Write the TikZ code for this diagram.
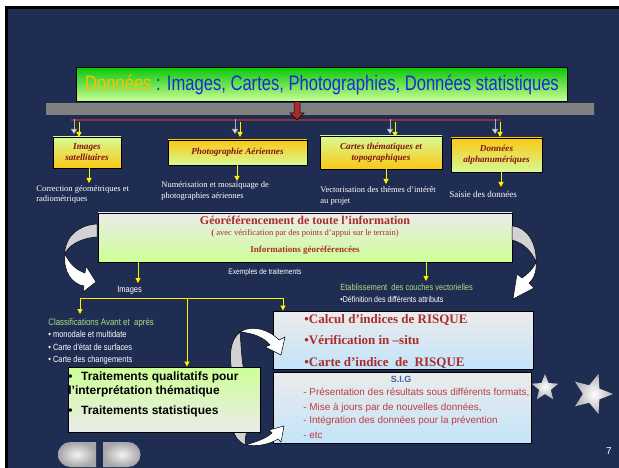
\documentclass[tikz,border=0pt]{standalone}
\usepackage{fontspec}
\setmainfont{Liberation Serif}
\setsansfont{Liberation Sans}
\newfontfamily\narrowfont[FakeStretch=0.83]{Liberation Sans}
\newfontfamily\titlefont[FakeStretch=0.79]{Liberation Sans}
\usetikzlibrary{arrows.meta,shapes.geometric}

\definecolor{slidebg}{RGB}{31,45,82}
\definecolor{titleblue}{RGB}{30,40,220}
\definecolor{titleorange}{RGB}{255,190,0}
\definecolor{titletop}{RGB}{10,200,10}
\definecolor{titlebot}{RGB}{205,255,150}
\definecolor{boxgreen}{RGB}{215,250,150}
\definecolor{boxgold}{RGB}{250,200,20}
\definecolor{boxtext}{RGB}{130,20,20}
\definecolor{redtext}{RGB}{170,45,45}
\definecolor{palegray}{RGB}{235,235,235}
\definecolor{paleblue}{RGB}{195,228,250}
\definecolor{sigblue}{RGB}{60,100,160}
\definecolor{sigred}{RGB}{190,60,60}
\definecolor{txtgreen}{RGB}{175,220,130}
\definecolor{redbar}{RGB}{140,50,55}
\definecolor{redarrow}{RGB}{165,45,45}

\tikzset{every picture/.style={line width=0.75pt}}

\begin{document}
\begin{tikzpicture}[x=1pt,y=1pt,yscale=-1,xscale=1,
  boxA/.style={draw=black, line width=0.8pt, top color=boxgreen, bottom color=boxgold, inner sep=0pt, align=center, text=boxtext, font=\fontsize{9.2}{11}\selectfont\bfseries\itshape},
  boxB/.style={boxA, top color=boxgold, bottom color=boxgreen},
  panel/.style={draw=black, line width=0.8pt, inner sep=0pt},
  yarr/.style={draw=yellow, line width=1pt, -{Triangle[width=5pt,length=5pt]}},
  warr/.style={draw=gray!60, line width=1pt, -{Triangle[width=6pt,length=5pt,fill=white]}},
  lbl/.style={anchor=base west, inner sep=0pt, text=white},
  bendwhite/.style={draw=black, line width=0.5pt, fill=white},
  bendgray/.style={draw=black, line width=0.5pt, fill=gray!35}]
\useasboundingbox (0,0) rectangle (619,468);

%Slide background
\fill[white] (0,0) rectangle (619,468);
\fill[black] (5,6) rectangle (619,468);
\fill[slidebg] (8,9) rectangle (619,468);

%Shape: gray bar
\node (bar) [minimum width=548, minimum height=11, inner sep=0pt, left color=gray!100, middle color=gray!15, right color=gray!100] at (320,109.5) {};
%Straight Lines: red bus
\coordinate (busW) at (71,120);
\coordinate (busE) at (501,120);
\draw[redbar, line width=2.5pt] (busW) -- (busE);
%Shape: red arrow
\draw[black, line width=0.5pt, fill=redarrow] (294,101) -- (300,101) -- (300,113) -- (304,113) -- (297,120) -- (290,113) -- (294,113) -- cycle;

%Title box
\node (title) [panel, top color=titletop, bottom color=titlebot, minimum width=491, minimum height=34, font=\titlefont\fontsize{21}{24}\selectfont] at (322,84.5) {\textcolor{titleorange}{Données}\ \textcolor{titleblue}{: Images, Cartes, Photographies, Données statistiques}};

%small arrows from the bus
\foreach \xa in {74,235,390,495} {
  \draw[warr] (\xa,119) -- (\xa,134);
  \draw[yarr] (\xa+5,122) -- (\xa+5,137);
}

%Data boxes
\node (sat) [boxA, minimum width=68, minimum height=31] at (87,152.5) {Images\\satellitaires};
\node (photo) [boxB, minimum width=139, minimum height=25] at (237.5,152.5) {Photographie Aériennes};
\node (carte) [boxA, minimum width=122, minimum height=33] at (381,152.5) {Cartes thématiques et\\topographiques};
\node (donnee) [boxB, minimum width=91, minimum height=34] at (496.5,155) {Données\\alphanumériques};

\coordinate (satE) at (89,183);
\coordinate (photoE) at (237,181);
\coordinate (carteE) at (386,184);
\coordinate (donneeE) at (501,187);
\draw[yarr] (sat.south -| satE) -- (satE);
\draw[yarr] (photo.south -| photoE) -- (photoE);
\draw[yarr] (carte.south -| carteE) -- (carteE);
\draw[yarr] (donnee.south -| donneeE) -- (donneeE);

% Text Node
\node (corr1) [lbl, font=\fontsize{8.5}{10}\selectfont] at (36,191.5) {Correction géométriques et};
\node (corr2) [lbl, font=\fontsize{8.5}{10}\selectfont] at (36,202) {radiométriques};
\node (num1) [lbl, font=\fontsize{8.5}{10}\selectfont] at (161,188) {Numérisation et mosaïquage de};
\node (num2) [lbl, font=\fontsize{8.5}{10}\selectfont] at (161,199) {photographies aériennes};
\node (vec1) [lbl, font=\fontsize{8.5}{10}\selectfont] at (320,193) {Vectorisation des thèmes d'intérêt};
\node (vec2) [lbl, font=\fontsize{8.5}{10}\selectfont] at (320,204) {au projet};
\node (saisie) [lbl, font=\fontsize{9}{10}\selectfont] at (449,197) {Saisie des données};

%Georeferencing box
\node (georef) [panel, top color=palegray, bottom color=titlebot, minimum width=414, minimum height=49] at (305,237.5) {};
\node (geo1) [anchor=base, inner sep=0pt, text=redtext, font=\fontsize{12}{14}\selectfont\bfseries] at (305,224.5) {Géoréférencement de toute l'information};
\node (geo2) [anchor=base, inner sep=0pt, text=redtext, font=\fontsize{8.5}{10}\selectfont] at (305,235.5) {{\bfseries (} avec vérification par des points d'appui sur le terrain)};
\node (geo3) [anchor=base, inner sep=0pt, text=redtext, font=\fontsize{9}{10}\selectfont\bfseries] at (305,252) {Informations géoréférencées};

%Curve Lines: left and right bent arrows
\draw[bendgray] (97,224) .. controls (76,225) and (64,240) .. (65,254) .. controls (68,246) and (80,238) .. (97,237) -- cycle;
\draw[bendwhite] (65,254) .. controls (70,264) and (76,270) .. (85,273) -- (86,266) -- (96,282) -- (83,292) -- (84,286) .. controls (72,284) and (63,272) .. (65,254) -- cycle;
\draw[bendgray] (512,226) .. controls (528,227) and (537,245) .. (536,262) .. controls (532,252) and (524,243) .. (512,240) -- cycle;
\draw[bendwhite] (536,262) .. controls (537,272) and (533,280) .. (529,283) -- (534,288) -- (513,299) -- (517,274) -- (522,278) .. controls (528,274) and (534,268) .. (536,262) -- cycle;

% Text Node
\node (exlbl) [lbl, font=\narrowfont\fontsize{8}{9}\selectfont] at (228,274.5) {Exemples de traitements};
\coordinate (imgE) at (138,283);
\coordinate (vecE) at (426,281);
\draw[yarr] (georef.south -| imgE) -- (imgE);
\draw[yarr] (georef.south -| vecE) -- (vecE);
\node (imglbl) [lbl, font=\narrowfont\fontsize{9}{10}\selectfont] at (117,292) {Images};
\node (etab) [lbl, text=txtgreen, font=\narrowfont\fontsize{9}{10}\selectfont] at (340,290.5) {Etablissement\ \ des couches vectorielles};
\node (defi) [lbl, font=\narrowfont\fontsize{8.5}{10}\selectfont] at (340,302.5) {•Définition des différents attributs};

% Text Node
\node (cls0) [lbl, text=txtgreen, font=\narrowfont\fontsize{9.5}{10}\selectfont] at (48,325) {Classifications Avant et\ \ après};
\node (cls1) [lbl, font=\narrowfont\fontsize{9}{10}\selectfont] at (48,337) {• monodale et multidate};
\node (cls2) [lbl, font=\narrowfont\fontsize{9}{10}\selectfont] at (48,350) {• Carte d'état de surfaces};
\node (cls3) [lbl, font=\narrowfont\fontsize{9}{10}\selectfont] at (48,362) {• Carte des changements};

%tails of the middle bent arrows
\draw[bendgray] (240,332) .. controls (230,340) and (229,355) .. (232,372) -- (244,372) .. controls (241,355) and (241,342) .. (240,332) -- cycle;
\draw[bendgray] (233,428) .. controls (234,436) and (238,442) .. (246,445) .. controls (244,440) and (246,434) .. (248,428) -- cycle;

%Treatments box
\node (trait) [panel, top color=titlebot, bottom color=palegray, minimum width=192, minimum height=65] at (164,399.5) {};
\node (tq1) [anchor=base west, inner sep=0pt, font=\sffamily\bfseries\fontsize{12}{14}\selectfont] at (68,380) {•\hspace{8.5pt}Traitements qualitatifs pour};
\node (tq2) [anchor=base west, inner sep=0pt, font=\sffamily\bfseries\fontsize{12}{14}\selectfont] at (68,394) {l'interprétation thématique};
\node (ts) [anchor=base west, inner sep=0pt, font=\sffamily\bfseries\fontsize{12}{14}\selectfont] at (68,414) {•\hspace{8.5pt}Traitements statistiques};

%Risk box
\node (calc) [panel, top color=palegray, bottom color=paleblue, minimum width=260, minimum height=58] at (403,340) {};
\node (calc1) [anchor=base west, inner sep=0pt, text=redtext, font=\fontsize{13}{15}\selectfont\bfseries] at (304,323) {•Calcul d'indices de RISQUE};
\node (calc2) [anchor=base west, inner sep=0pt, text=redtext, font=\fontsize{13}{15}\selectfont\bfseries] at (304,344) {•Vérification in –situ};
\node (calc3) [anchor=base west, inner sep=0pt, text=redtext, font=\fontsize{13}{15}\selectfont\bfseries] at (304,366) {•Carte d'indice\ \ de\ \ RISQUE};

%SIG box
\node (sig) [panel, top color=palegray, bottom color=paleblue, minimum width=258, minimum height=71] at (402,407.5) {};
\node (sigT) [anchor=base, inner sep=0pt, text=sigblue, font=\sffamily\bfseries\fontsize{9}{10}\selectfont] at (401,382.5) {S.I.G};
\node (sig1) [anchor=base west, inner sep=0pt, text=sigred, font=\sffamily\fontsize{9.9}{12}\selectfont] at (303,395) {- Présentation des résultats sous différents formats,};
\node (sig2) [anchor=base west, inner sep=0pt, text=sigred, font=\sffamily\fontsize{9.9}{12}\selectfont] at (303,410) {- Mise à jours par de nouvelles données,};
\node (sig3) [anchor=base west, inner sep=0pt, text=sigred, font=\sffamily\fontsize{9.9}{12}\selectfont] at (303,423) {- Intégration des données pour la prévention};
\node (sig4) [anchor=base west, inner sep=0pt, text=sigred, font=\sffamily\fontsize{9.9}{12}\selectfont] at (303,438) {- etc};

%yellow links under Images
\coordinate (busL) at (80,298);
\coordinate (busM) at (187,298);
\coordinate (busR) at (283,298);
\draw[draw=yellow, line width=1pt] (busL) -- (busR);
\draw[yarr] (busL) -- (80,314);
\draw[yarr] (busM) -- (busM |- trait.north);
\draw[yarr] (busR) -- (busR |- calc.north);

%heads of the middle bent arrows
\draw[bendwhite] (240,332) .. controls (252,324) and (270,330) .. (279,340) -- (285,337) -- (281,355) -- (265,347) -- (270,345) .. controls (264,337) and (252,333) .. (240,332) -- cycle;
\draw[bendwhite] (246,445) .. controls (258,447) and (270,444) .. (278,439) -- (281,442) -- (284,426) -- (269,430) -- (272,433) .. controls (264,440) and (254,442) .. (246,445) -- cycle;

%Stars
\node (starA) [star, star points=5, star point ratio=2.3, minimum size=28, inner sep=0pt, inner color=white, outer color=gray!60] at (545,388) {};
\node (starB) [star, star points=5, star point ratio=2.3, minimum size=42, inner sep=0pt, inner color=white, outer color=gray!60, rotate=-18] at (592,394) {};

%Navigation buttons
\shade[inner color=gray!10, outer color=gray!70] (96,442) -- (70.5,442) arc[start angle=270, end angle=90, radius=12.5] -- (96,467) -- cycle;
\shade[inner color=gray!10, outer color=gray!70] (103,442) -- (128,442) arc[start angle=270, end angle=450, radius=12.5] -- (103,467) -- cycle;

% Text Node
\node (pnum) [text=white, inner sep=0pt, font=\sffamily\fontsize{10}{12}\selectfont] at (609,451) {7};
\end{tikzpicture}
\end{document}
